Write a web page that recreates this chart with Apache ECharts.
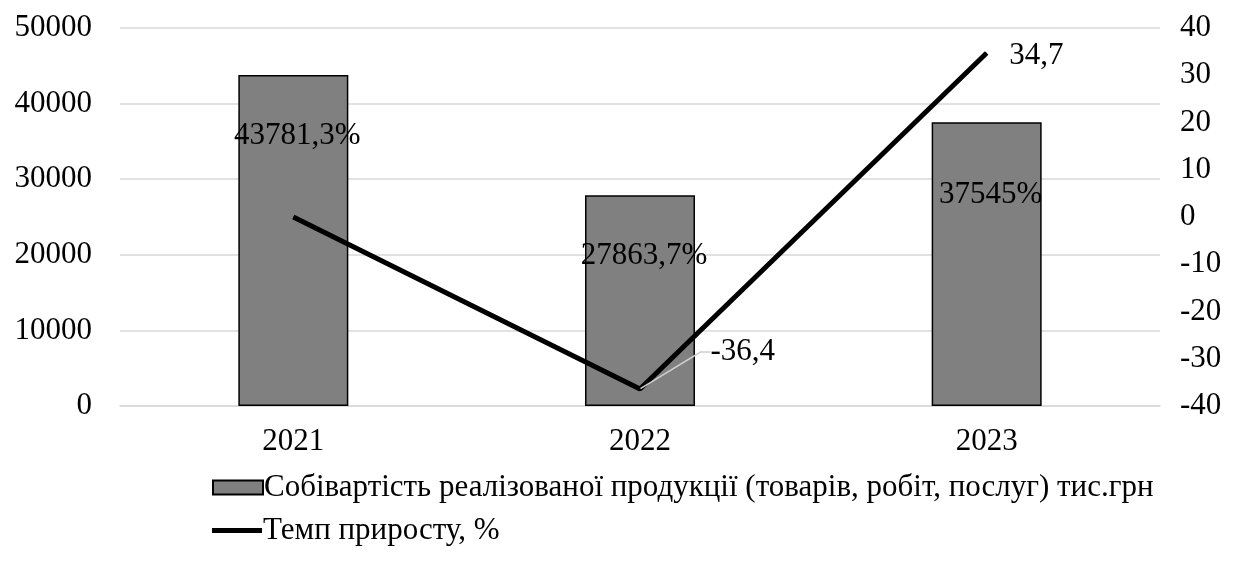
<!DOCTYPE html>
<html>
<head>
<meta charset="utf-8">
<script src="https://cdn.jsdelivr.net/npm/echarts@6/dist/echarts.min.js"></script>
<style>
  html, body { margin: 0; padding: 0; background: #fff; }
  #chart { width: 1245px; height: 563px; }
</style>
</head>
<body>
<div id="chart"></div>
<script>
// Years on the category axis
const years = ['2021', '2022', '2023'];
// Cost of goods sold, thousand UAH
const costValues = [43781.3, 27863.7, 37545];
// Growth rate, %
const growthValues = [0, -36.4, 34.7];
// Which growth points carry a value label
const growthLabelShown = [false, true, true];

const COST_NAME = 'Собівартість реалізованої продукції (товарів, робіт, послуг) тис.грн';
const GROWTH_NAME = 'Темп приросту, %';

const FONT = '"Liberation Serif", "Times New Roman", serif';
const FS = 31;

// Placement of each bar label, measured down from the bar top
const barLabelOffsets = [[4, 56], [4, 56], [4, 68]];

const fmtComma = v => String(v).replace('.', ',');

const chart = echarts.init(document.getElementById('chart'), null, { renderer: 'canvas' });

const legendText = { fontFamily: FONT, fontSize: FS, color: '#000', padding: [0, 0, 0, -4] };

chart.setOption({
  animation: false,
  backgroundColor: '#fff',
  textStyle: { fontFamily: FONT },
  grid: { left: 120, right: 85, top: 28, bottom: 157, containLabel: false },
  legend: [
    {
      left: 207,
      top: 467,
      itemWidth: 50,
      itemHeight: 14,
      icon: 'rect',
      textStyle: legendText,
      data: [COST_NAME]
    },
    {
      left: 207,
      top: 510,
      itemWidth: 50,
      itemHeight: 5,
      icon: 'rect',
      textStyle: legendText,
      data: [GROWTH_NAME]
    }
  ],
  xAxis: {
    type: 'category',
    data: years,
    axisLine: { lineStyle: { color: '#d9d9d9', width: 1.5 } },
    axisTick: { show: false },
    axisLabel: { fontFamily: FONT, fontSize: FS, color: '#000', margin: 20 }
  },
  yAxis: [
    {
      type: 'value',
      min: 0, max: 50000, interval: 10000,
      axisLine: { show: false },
      axisTick: { show: false },
      splitLine: { lineStyle: { color: '#d9d9d9', width: 1.5 } },
      axisLabel: { fontFamily: FONT, fontSize: FS, color: '#000', margin: 28, formatter: v => String(v) }
    },
    {
      type: 'value',
      min: -40, max: 40, interval: 10,
      axisLine: { show: false },
      axisTick: { show: false },
      splitLine: { show: false },
      axisLabel: { fontFamily: FONT, fontSize: FS, color: '#000', margin: 20, formatter: v => String(v) }
    }
  ],
  series: [
    {
      name: COST_NAME,
      type: 'bar',
      yAxisIndex: 0,
      barWidth: 110,
      itemStyle: { color: '#808080', borderColor: '#000', borderWidth: 1.5 },
      data: costValues.map((v, i) => ({
        value: v,
        label: {
          show: true,
          position: 'insideTop',
          offset: [barLabelOffsets[i][0], barLabelOffsets[i][1] - 16],
          formatter: p => fmtComma(p.value) + '%',
          fontFamily: FONT, fontSize: FS, color: '#000'
        }
      }))
    },
    {
      name: GROWTH_NAME,
      type: 'line',
      yAxisIndex: 1,
      symbol: 'circle',
      symbolSize: 1,
      showSymbol: true,
      lineStyle: { color: '#000', width: 5 },
      itemStyle: { color: '#000' },
      data: growthValues.map((v, i) => {
        // the low point gets a leader line to its label
        const led = i === 1;
        return {
          value: v,
          label: {
            show: growthLabelShown[i],
            position: 'right',
            distance: led ? 12 : 22,
            padding: led ? [18, 0, 0, 10] : 0,
            formatter: p => fmtComma(p.value),
            fontFamily: FONT, fontSize: FS, color: '#000'
          },
          labelLine: { show: led }
        };
      }),
      labelLine: {
        show: true,
        length2: 10,
        lineStyle: { color: '#cfcfcf', width: 1.5 }
      },
      labelLayout: function (params) {
        if (params.dataIndex === 1) {
          return { dx: 48, dy: -37 };
        }
        if (params.dataIndex === 2) {
          return { dy: 3 };
        }
        return {};
      }
    }
  ]
});
</script>
</body>
</html>
